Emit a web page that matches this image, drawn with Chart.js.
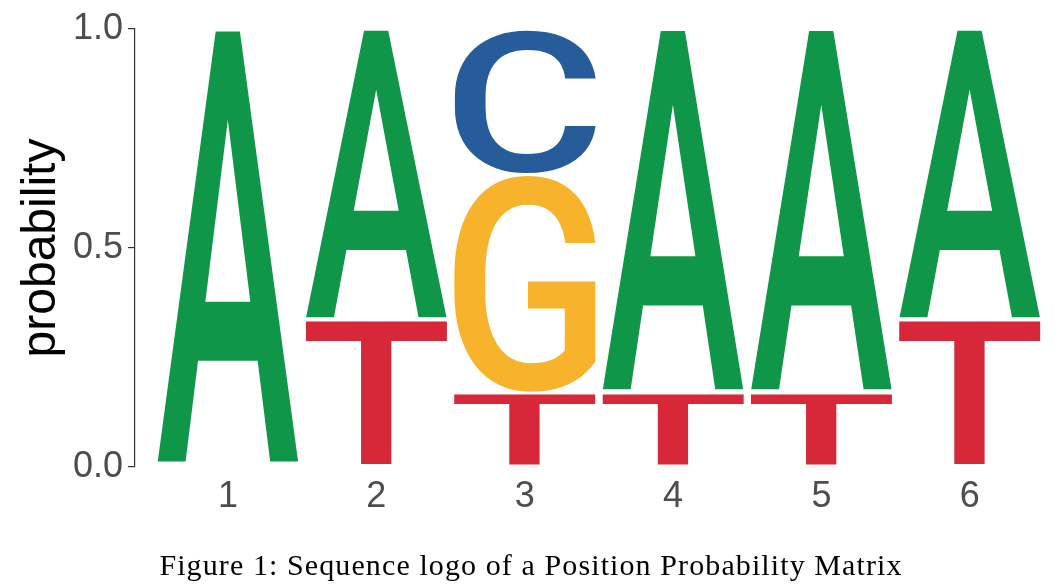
<!DOCTYPE html>
<html><head><meta charset="utf-8">
<script src="https://cdn.jsdelivr.net/npm/chart.js@4/dist/chart.umd.min.js"></script>
<style>
html,body{margin:0;padding:0;background:#fff;}
#wrap{width:1054px;height:586px;position:relative;}
#caption{position:absolute;left:0;width:1062px;top:550px;text-align:center;font-family:'Liberation Serif',serif;font-size:30px;line-height:30px;letter-spacing:1.1px;color:#000;white-space:nowrap;}
</style>
</head><body><div id="wrap"><canvas id="c" width="1054" height="586"></canvas>
<div id="caption">Figure 1: Sequence logo of a Position Probability Matrix</div></div>
<script>
// ---- data ----
const positions = [1, 2, 3, 4, 5, 6];
const probT = [0, 0.333, 0.167, 0.167, 0.167, 0.333];
const probG = [0, 0, 0.5, 0, 0, 0];
const probC = [0, 0, 0.333, 0, 0, 0];
const probA = [1.0, 0.667, 0, 0.833, 0.833, 0.667];
const yTickValues = [0, 0.5, 1.0];
const letters = ['T', 'G', 'C', 'A']; // bottom to top
const letterColors = { A: '#109648', C: '#255C99', G: '#F7B32B', T: '#D62839' };
const seriesByLetter = { T: probT, G: probG, C: probC, A: probA };

const datasets = letters.map(l => ({
  label: l,
  data: positions.map((p, i) => ({ x: p, y: seriesByLetter[l][i] })),
  backgroundColor: 'rgba(0,0,0,0)',
  borderWidth: 0,
  letterColor: letterColors[l],
  categoryPercentage: 1,
  barPercentage: 0.957
}));

const logoPlugin = {
  id: 'logo',
  afterDatasetsDraw(chart) {
    const ctx = chart.ctx;
    const zeroPx = chart.scales.y.getPixelForValue(0);
    chart.data.datasets.forEach((ds, i) => {
      const meta = chart.getDatasetMeta(i);
      meta.data.forEach(bar => {
        const p = bar.getProps(['x', 'y', 'base', 'width'], true);
        let top = Math.min(p.y, p.base), bottom = Math.max(p.y, p.base);
        if (bottom < zeroPx - 0.5) bottom -= 2;
        const h = bottom - top;
        if (h <= 1) return;
        ctx.save();
        ctx.font = '500 200px Roboto';
        ctx.textAlign = 'left';
        ctx.textBaseline = 'alphabetic';
        const m = ctx.measureText(ds.label);
        const gw = m.actualBoundingBoxLeft + m.actualBoundingBoxRight;
        const gh = m.actualBoundingBoxAscent + m.actualBoundingBoxDescent;
        ctx.translate(p.x - p.width / 2, top);
        ctx.scale(p.width / gw, h / gh);
        ctx.fillStyle = ds.letterColor;
        ctx.fillText(ds.label, m.actualBoundingBoxLeft, m.actualBoundingBoxAscent);
        ctx.restore();
      });
    });
  }
};

new Chart(document.getElementById('c'), {
  type: 'bar',
  data: { datasets },
  plugins: [logoPlugin],
  options: {
    responsive: false,
    devicePixelRatio: 1,
    animation: false,
    layout: { padding: { top: 29, right: 10, left: 0, bottom: 62 } },
    plugins: {
      legend: { display: false },
      tooltip: { enabled: false },
      title: { display: false }
    },
    scales: {
      x: {
        type: 'linear', min: 0.373, max: 6.5, stacked: true, offset: false,
        afterBuildTicks: s => { s.ticks = positions.map(v => ({ value: v })); },
        ticks: { color: '#4D4D4D', font: { family: 'Liberation Sans', size: 36 }, padding: 8, callback: v => String(v) },
        grid: { display: false, drawTicks: false },
        border: { display: false },
        afterFit: s => { s.height = 57; }
      },
      y: {
        min: 0, max: 1, stacked: true,
        afterBuildTicks: s => { s.ticks = yTickValues.map(v => ({ value: v })); },
        ticks: { color: '#4D4D4D', font: { family: 'Liberation Sans', size: 36 }, padding: 5, callback: v => v.toFixed(1) },
        grid: { drawOnChartArea: false, drawTicks: true, tickLength: 7, color: '#333', lineWidth: 1.2 },
        border: { display: true, color: '#333', width: 1.2 },
        title: { display: true, text: 'probability', color: '#000', font: { family: 'Liberation Sans', size: 48 }, padding: { top: 13, bottom: 0 } },
        afterFit: s => { s.width = 135; }
      }
    }
  }
});
</script>
</body></html>
